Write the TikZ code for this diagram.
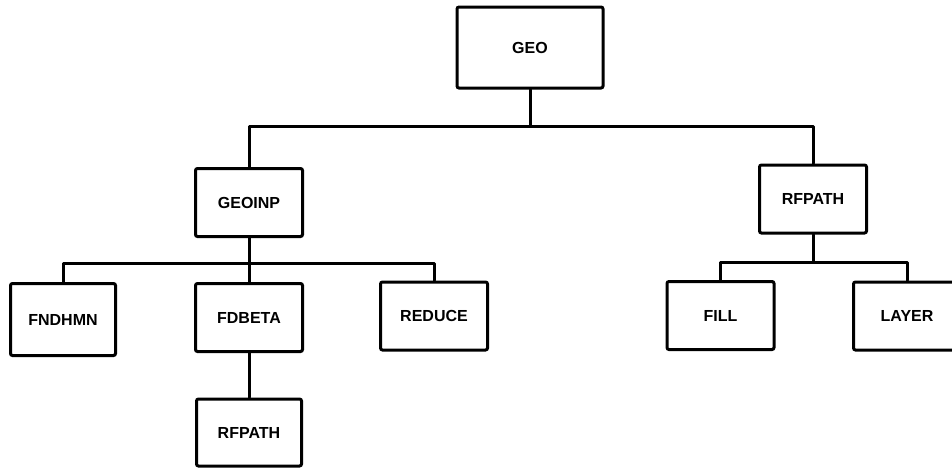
\documentclass[tikz,border=0pt]{standalone}
\usepackage{fontspec}
\setmainfont{Liberation Sans}
\begin{document}
\begin{tikzpicture}[x=1pt,y=-1pt,
  modbox/.style={draw=black, line width=3pt, rounded corners=2pt, fill=white,
    minimum width=107pt, minimum height=68pt, inner sep=0pt,
    font=\fontsize{16}{18}\selectfont\bfseries},
  conn/.style={draw=black, line width=3pt, line cap=round, line join=round}]
\useasboundingbox (0,0) rectangle (952,469);
\clip (0,0) rectangle (952,469);
\node[modbox, minimum width=146pt, minimum height=81pt] (geo) at (530,47.5) {GEO};
\node[modbox] (geoinp) at (249,202.5) {GEOINP};
\node[modbox] (rfa) at (813,199) {RFPATH};
\node[modbox, minimum width=105pt, minimum height=72pt] (fndhmn) at (63,319.5) {FNDHMN};
\node[modbox] (fdbeta) at (249,317.5) {FDBETA};
\node[modbox] (reduce) at (434,316) {REDUCE};
\node[modbox, minimum width=105pt, minimum height=67pt] (rfb) at (249,432.5) {RFPATH};
\node[modbox] (fill) at (720.5,315.5) {FILL};
\node[modbox] (layer) at (907,316) {LAYER};
\coordinate (bus1) at (530,126);
\coordinate (bus2) at (249,263);
\coordinate (bus3) at (813,262);
\draw[conn] (geo.south) -- (bus1);
\draw[conn] (geoinp.north) |- (bus1) -| (rfa.north);
\draw[conn] (geoinp.south) -- (bus2);
\draw[conn] (fndhmn.north) |- (bus2) -| (reduce.north);
\draw[conn] (bus2) -- (fdbeta.north);
\draw[conn] (fdbeta.south) -- (rfb.north);
\draw[conn] (rfa.south) -- (bus3);
\draw[conn] (fill.north) |- (bus3) -| (layer.north);
\end{tikzpicture}
\end{document}
